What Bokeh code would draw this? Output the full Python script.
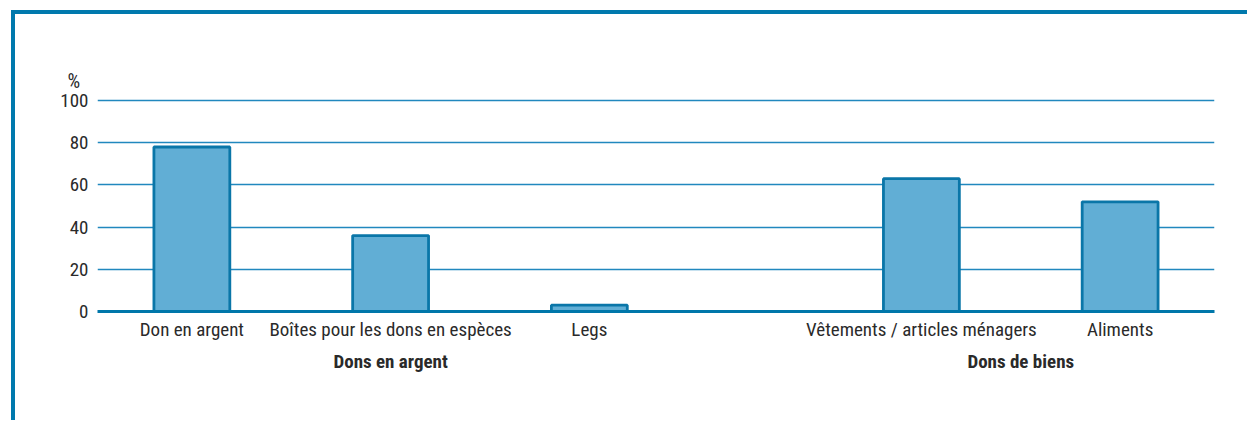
from bokeh.plotting import figure
from bokeh.embed import file_html
from bokeh.resources import INLINE
from bokeh.models import FactorRange, Range1d, ColumnDataSource, FixedTicker

groups = ["Dons en argent", "Dons en argent", "Dons en argent", "Dons de biens", "Dons de biens"]
categories = ["Don en argent", "Boîtes pour les dons en espèces", "Legs",
              "Vêtements / articles ménagers", "Aliments"]
values = [78, 36, 3, 63, 52]
y_ticks = [0, 20, 40, 60, 80, 100]

FONT = "Roboto Condensed"
TEXT = "#2a2a2a"
FRAME = "#0079ad"
GRID = "#2188be"
BAR_FILL = "#61aed5"
BAR_LINE = "#0a76a8"

factors = list(zip(groups, categories))
src = ColumnDataSource(dict(x=factors, top=values))

x_range = FactorRange(factors=factors, factor_padding=0.99, group_padding=2.325,
                      range_padding=0.445, range_padding_units="absolute")

p = figure(width=1236, height=410, x_range=x_range, y_range=Range1d(0, 101),
           output_backend="svg", toolbar_location=None, title="%",
           min_border_left=82, min_border_right=37, min_border_top=84, min_border_bottom=113)
p.styles = {"border-top": f"4px solid {FRAME}", "border-left": f"4px solid {FRAME}",
            "margin-left": "11px", "margin-top": "10px", "overflow": "hidden"}
p.outline_line_color = None
p.background_fill_color = "white"

p.title.align = "left"
p.title.offset = -30
p.title.text_font = FONT
p.title.text_font_size = "20px"
p.title.text_font_style = "normal"
p.title.text_color = TEXT
p.title.standoff = 12

p.vbar(x="x", top="top", width=0.76, source=src, fill_color=BAR_FILL,
       line_color=BAR_LINE, line_width=2.8)

# grid
p.xgrid.visible = False
p.ygrid.ticker = FixedTicker(ticks=y_ticks)
p.ygrid.grid_line_color = GRID
p.ygrid.grid_line_width = 1.5

# y axis
p.yaxis.ticker = FixedTicker(ticks=y_ticks)
p.yaxis.axis_line_color = None
p.yaxis.major_tick_line_color = None
p.yaxis.minor_tick_line_color = None
p.yaxis.major_tick_out = 0
p.yaxis.major_tick_in = 0
p.yaxis.major_label_standoff = 9
p.yaxis.major_label_text_font = FONT
p.yaxis.major_label_text_font_size = "19px"
p.yaxis.major_label_text_color = TEXT

# x axis
xa = p.xaxis[0]
xa.axis_line_color = "#0077aa"
xa.axis_line_width = 3
xa.major_tick_line_color = None
xa.major_tick_out = 0
xa.major_tick_in = 0
xa.major_label_standoff = 6
xa.major_label_text_font = FONT
xa.major_label_text_font_size = "19px"
xa.major_label_text_color = TEXT
xa.group_text_font = FONT
xa.group_text_font_size = "19px"
xa.group_text_font_style = "bold"
xa.group_text_color = TEXT
xa.separator_line_alpha = 0

open("out.html", "w").write(file_html(p, INLINE))
